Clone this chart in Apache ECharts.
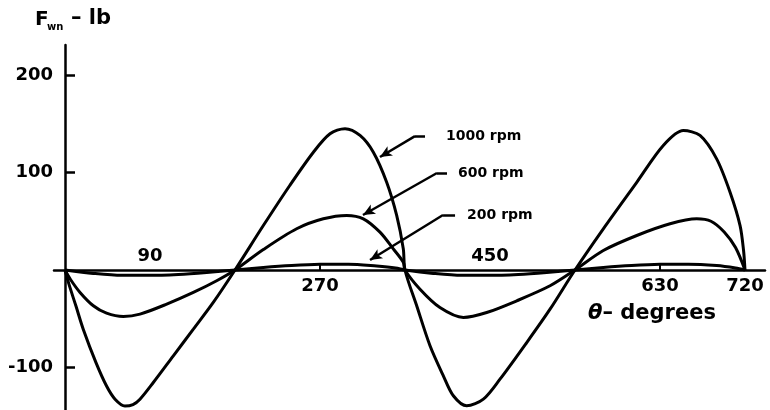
<!DOCTYPE html>
<html>
<head>
<meta charset="utf-8">
<script src="https://cdn.jsdelivr.net/npm/echarts@6/dist/echarts.min.js"></script>
<style>
  html, body { margin: 0; padding: 0; background: #fff; }
  #chart { width: 770px; height: 410px; }
</style>
</head>
<body>
<div id="chart"></div>
<script>
// Crank angle (degrees) and wrist-pin normal force (lb) for three engine speeds
const rpm1000 = [
  [0, 0], [4, -14], [11.6, -37], [19.4, -61], [32.8, -95], [44, -119], [53, -132.5],
  [63.5, -139.5], [72, -138], [79.4, -132.5], [93.5, -115.4], [114.7, -88], [135.9, -60.7],
  [157, -33.3], [180, 0], [210, 45.6], [238, 86.7], [263, 120.8], [280.6, 139.7],
  [296.5, 145], [312.4, 138], [326.5, 120.8], [340.6, 90], [351.2, 56], [358.2, 21.7],
  [360, 0], [372.4, -36.7], [386.5, -77.7], [400.6, -108.5], [411.2, -129], [425.3, -139.3],
  [443, -132.5], [460.6, -112], [488.9, -74.4], [513.6, -40.2], [540, 0], [570, 42.3],
  [605.4, 90], [633.5, 127.7], [654.7, 143], [672.4, 138], [690, 114], [704.2, 79.8],
  [714.8, 45.6], [718.5, 20], [720, 0]
];
const rpm600 = [
  [0, 0], [6, -10], [15.9, -23], [30, -36.7], [44, -44.3], [61.8, -47.7], [79.4, -45.3],
  [107.7, -35], [135.9, -23], [160.6, -11], [180, 0], [210, 21], [245.3, 42.3],
  [273.5, 52.5], [298.3, 56], [315.9, 52.5], [333.5, 38.8], [347.6, 21.7], [358.2, 8],
  [360, 0], [375.9, -19.7], [397, -38.5], [421.8, -48.7], [446.5, -43.6], [478.3, -31.6],
  [513.6, -16.2], [540, 0], [570, 20], [605.4, 35.4], [640.7, 47.4], [668.9, 52.5],
  [684, 50], [698, 39], [710, 23], [720, 0]
];
const rpm200 = [
  [0, 0], [30, -3.5], [60, -5.5], [90, -5.5], [120, -4.5], [150, -2.5], [180, 0],
  [210, 2.5], [240, 4.5], [270, 5.8], [300, 6], [330, 4], [350, 2], [360, 0],
  [390, -3.5], [420, -5.5], [450, -5.5], [480, -4.5], [510, -2.5], [540, 0],
  [570, 2.5], [600, 4.5], [630, 5.8], [660, 6], [690, 4.5], [710, 2], [720, 0]
];

const seriesNames = ['1000 rpm', '600 rpm', '200 rpm'];
const xTicksBelow = [270, 630, 720];
const xTicksAbove = [90, 450];
const xTickMarks = [270, 630];
const yTicks = [-100, 100, 200];

// Leader lines: arrow tip on the curve, elbow, end of the horizontal run (data coords)
const leaders = [
  [[333.5, 115.9], [370.6, 137.4], [381.2, 137.4]],
  [[315.5, 56.4], [393.9, 99.5], [404.5, 99.5]],
  [[323, 10.3], [400.3, 56.4], [413, 56.4]]
];
const leaderGap = [21, 11, 12];

const FONT = 'DejaVu Sans';
const INK = '#000';

const X_MIN = -11.65, X_MAX = 741.2;
const Y_MIN = -143.6, Y_MAX = 230.8;

// Pixel frame of the plot area; helper grids share it so their edges fall on the zero lines
const PLOT = { left: 54, right: 5, top: 45, bottom: 0 };
const ZERO_Y = PLOT.top + (410 - PLOT.top - PLOT.bottom) * Y_MAX / (Y_MAX - Y_MIN);
const ZERO_X = PLOT.left + (770 - PLOT.left - PLOT.right) * (-X_MIN) / (X_MAX - X_MIN);

function leaderLines(pts, text, gap) {
  return {
    silent: true,
    animation: false,
    symbolSize: [8, 12],
    lineStyle: { color: INK, width: 2.5, type: 'solid' },
    emphasis: { disabled: true },
    data: [
      [
        { coord: pts[0], symbol: 'arrow', label: { show: false } },
        { coord: pts[1], symbol: 'none' }
      ],
      [
        { coord: pts[1], symbol: 'none',
          label: { show: true, position: 'end', distance: gap, formatter: text,
                   color: INK, fontFamily: FONT, fontWeight: 'bold', fontSize: 14 } },
        { coord: pts[2], symbol: 'none' }
      ]
    ]
  };
}

function curve(name, data, idx) {
  return {
    name: name,
    type: 'line',
    data: data,
    xAxisIndex: 0,
    yAxisIndex: 0,
    showSymbol: false,
    symbol: 'none',
    smooth: 0.3,
    lineStyle: { color: INK, width: 3 },
    emphasis: { disabled: true },
    markLine: leaderLines(leaders[idx], name, leaderGap[idx])
  };
}

const axisText = { color: INK, fontFamily: FONT, fontWeight: 'bold', fontSize: 18 };
const hiddenX = (grid) => ({ type: 'value', gridIndex: grid, min: X_MIN, max: X_MAX, show: false });
const hiddenY = (grid) => ({ type: 'value', gridIndex: grid, min: Y_MIN, max: Y_MAX, show: false });
const noLine = { show: false, onZero: false };

const chart = echarts.init(document.getElementById('chart'), null, { renderer: 'canvas' });
chart.setOption({
  animation: false,
  backgroundColor: '#fff',
  grid: [
    // main plot
    Object.assign({ outerBoundsMode: 'none', containLabel: false }, PLOT),
    // strip ending on the zero line: labels below the horizontal axis
    { outerBoundsMode: 'none', left: PLOT.left, right: PLOT.right, top: PLOT.top, height: ZERO_Y - PLOT.top },
    // strip starting on the zero line: labels above the horizontal axis
    { outerBoundsMode: 'none', left: PLOT.left, right: PLOT.right, top: ZERO_Y, bottom: PLOT.bottom },
    // frame starting on the vertical axis: labels left of it
    { outerBoundsMode: 'none', left: ZERO_X, right: PLOT.right, top: PLOT.top, bottom: PLOT.bottom }
  ],
  xAxis: [
    {
      type: 'value', gridIndex: 0, min: X_MIN, max: X_MAX, position: 'bottom',
      axisLine: { show: true, onZero: true, onZeroAxisIndex: 0, lineStyle: { color: INK, width: 2.5 } },
      axisTick: { show: true, inside: true, length: 6, customValues: xTickMarks, lineStyle: { color: INK, width: 2 } },
      axisLabel: { show: false },
      splitLine: { show: false }
    },
    {
      type: 'value', gridIndex: 1, min: X_MIN, max: X_MAX, position: 'bottom',
      axisLine: noLine, axisTick: { show: false }, splitLine: { show: false },
      axisLabel: Object.assign({ show: true, margin: 7, customValues: xTicksBelow }, axisText)
    },
    {
      type: 'value', gridIndex: 2, min: X_MIN, max: X_MAX, position: 'top',
      axisLine: noLine, axisTick: { show: false }, splitLine: { show: false },
      axisLabel: Object.assign({ show: true, margin: 5, customValues: xTicksAbove }, axisText)
    },
    hiddenX(3)
  ],
  yAxis: [
    {
      type: 'value', gridIndex: 0, min: Y_MIN, max: Y_MAX,
      axisLine: { show: true, onZero: true, onZeroAxisIndex: 0, lineStyle: { color: INK, width: 2.5 } },
      axisTick: { show: true, inside: true, length: 10, customValues: yTicks, lineStyle: { color: INK, width: 2.5 } },
      axisLabel: { show: false },
      splitLine: { show: false }
    },
    hiddenY(1),
    hiddenY(2),
    {
      type: 'value', gridIndex: 3, min: Y_MIN, max: Y_MAX, position: 'left',
      axisLine: noLine, axisTick: { show: false }, splitLine: { show: false },
      axisLabel: Object.assign({ show: true, margin: 12, customValues: yTicks }, axisText)
    }
  ],
  series: [
    curve(seriesNames[0], rpm1000, 0),
    curve(seriesNames[1], rpm600, 1),
    curve(seriesNames[2], rpm200, 2)
  ],
  graphic: [
    { type: 'text', left: 35, top: 10,
      style: { text: 'F', fill: INK, font: 'bold 20px "DejaVu Sans"' } },
    { type: 'text', left: 47, top: 22,
      style: { text: 'wn', fill: INK, font: 'bold 10px "DejaVu Sans"' } },
    { type: 'text', left: 71, top: 8,
      style: { text: '– lb', fill: INK, font: 'bold 21px "DejaVu Sans"' } },
    { type: 'text', left: 588, top: 303,
      style: {
        text: '{t|θ}– degrees',
        fill: INK, font: 'bold 21px "DejaVu Sans"',
        rich: { t: { fontStyle: 'italic', fontWeight: 'bold', fontSize: 21, fontFamily: FONT, fill: INK } }
      } }
  ]
});
</script>
</body>
</html>
